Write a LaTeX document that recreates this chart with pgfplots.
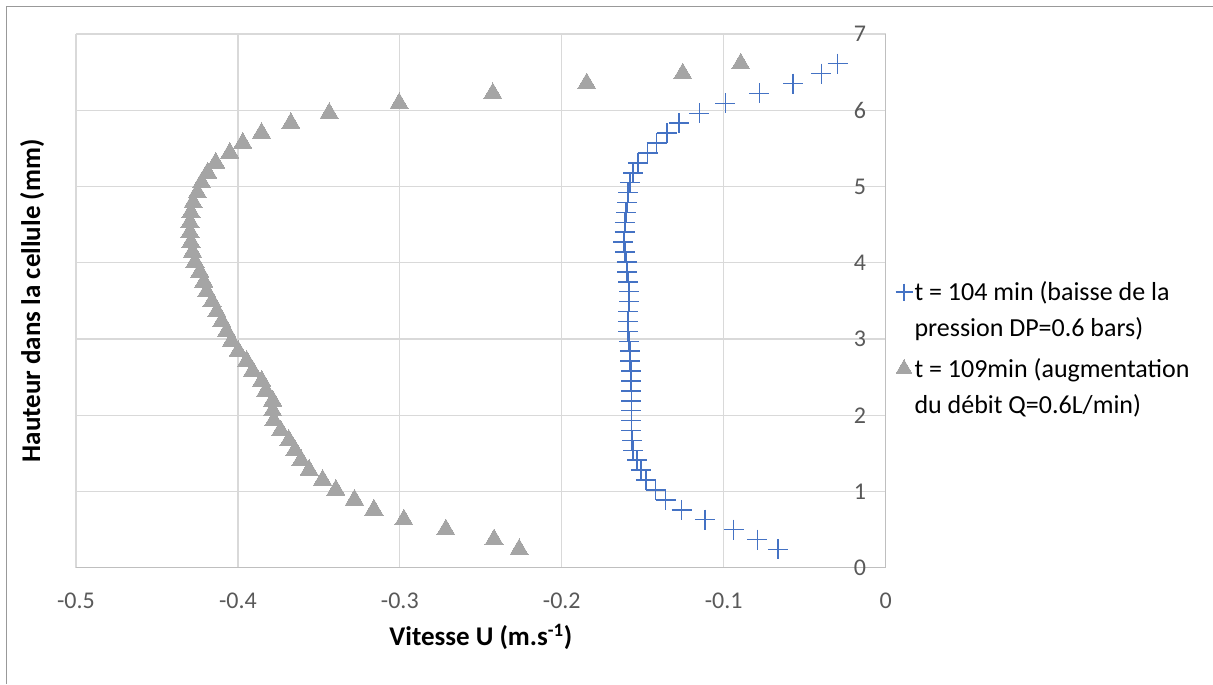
\documentclass[border=0pt]{standalone}
\usepackage{pgfplots}
\pgfplotsset{compat=1.18}
\usepackage{fontspec}
\setmainfont{Carlito}
\definecolor{gridgray}{HTML}{D9D9D9}
\definecolor{axgray}{HTML}{BFBFBF}
\definecolor{tickgray}{HTML}{595959}
\definecolor{pblue}{HTML}{4472C4}
\definecolor{tgray}{HTML}{A5A5A5}
\begin{document}
\begin{tikzpicture}[x=1pt,y=1pt]
\path (0,0) rectangle (1213,684);
\draw[color=black!40, line width=1pt] (6.5,0) -- (6.5,677.5) -- (1213,677.5);
\begin{axis}[
  at={(76pt,116pt)}, anchor=south west,
  width=810pt, height=534pt, scale only axis,
  xmin=-0.5, xmax=0, ymin=0, ymax=7,
  xtick={-0.5,-0.4,-0.3,-0.2,-0.1,0},
  xticklabels={-0.5,-0.4,-0.3,-0.2,-0.1,0},
  ytick={0,1,2,3,4,5,6,7},
  axis x line*=bottom, axis y line*=right,
  axis line style={-, draw=axgray, line width=1.3pt},
  grid=major, major grid style={draw=gridgray, line width=1.3pt},
  major tick length=0pt,
  /pgf/number format/assume math mode=true,
  tick label style={font=\fontsize{24}{28}\selectfont, text=tickgray},
  xticklabel style={yshift=-22pt},
  yticklabel style={anchor=east, xshift=-16pt},
  xlabel={\textbf{Vitesse U (m.s\textsuperscript{-1})}},
  ylabel={\textbf{Hauteur dans la cellule (mm)}},
  every axis x label/.style={at={(axis description cs:0.5,0)}, anchor=center, yshift=-69pt, font=\fontsize{27}{32}\selectfont},
  every axis y label/.style={at={(axis description cs:-0.054,0.5)}, rotate=90, anchor=center, font=\fontsize{27}{32}\selectfont},
  legend style={draw=none, fill=none, at={(1.012,0.411)}, anchor=west, inner sep=0pt,
    font=\fontsize{26}{36}\selectfont, nodes={align=left}, row sep=16pt},
  legend cell align=left,
]
\addplot[draw=pblue, line width=1.5pt, only marks, mark=+, mark size=10pt,
  legend image post style={mark size=8.5pt, yshift=18pt}] table[x=x, y=y] {
x y
-0.0665 0.24
-0.0792 0.37
-0.0938 0.50
-0.1117 0.63
-0.1260 0.76
-0.1358 0.89
-0.1420 1.02
-0.1480 1.15
-0.1510 1.28
-0.1535 1.41
-0.1560 1.54
-0.1566 1.67
-0.1570 1.80
-0.1570 1.93
-0.1570 2.06
-0.1570 2.19
-0.1570 2.32
-0.1572 2.45
-0.1574 2.58
-0.1578 2.71
-0.1580 2.84
-0.1585 2.97
-0.1590 3.10
-0.1592 3.23
-0.1588 3.36
-0.1582 3.49
-0.1584 3.62
-0.1588 3.75
-0.1597 3.88
-0.1600 4.01
-0.1610 4.14
-0.1620 4.27
-0.1612 4.40
-0.1610 4.53
-0.1602 4.66
-0.1595 4.79
-0.1590 4.92
-0.1580 5.05
-0.1560 5.18
-0.1530 5.31
-0.1470 5.44
-0.1415 5.57
-0.1350 5.70
-0.1276 5.83
-0.1150 5.96
-0.0990 6.09
-0.0780 6.22
-0.0572 6.35
-0.0397 6.48
-0.0296 6.61
};
\addlegendentry{t = 104 min (baisse de la\\pression DP=0.6 bars)}
\addplot[color=tgray, only marks, mark=triangle*, mark size=10.5pt, mark options={fill=tgray, draw=tgray, line width=0pt},
  legend image post style={mark size=9pt, yshift=18pt}] table[x=x, y=y] {
x y
-0.2263 0.24
-0.2418 0.37
-0.2716 0.50
-0.2975 0.63
-0.3160 0.76
-0.3280 0.89
-0.3395 1.02
-0.3477 1.15
-0.3560 1.28
-0.3610 1.41
-0.3648 1.54
-0.3685 1.67
-0.3736 1.80
-0.3778 1.93
-0.3785 2.06
-0.3785 2.19
-0.3827 2.32
-0.3853 2.45
-0.3909 2.58
-0.3946 2.71
-0.3998 2.84
-0.4040 2.97
-0.4070 3.10
-0.4100 3.23
-0.4130 3.36
-0.4160 3.49
-0.4193 3.62
-0.4210 3.75
-0.4235 3.88
-0.4265 4.01
-0.4280 4.14
-0.4290 4.27
-0.4296 4.40
-0.4296 4.53
-0.4290 4.66
-0.4276 4.79
-0.4250 4.92
-0.4224 5.05
-0.4187 5.18
-0.4137 5.31
-0.4050 5.44
-0.3970 5.57
-0.3854 5.70
-0.3673 5.83
-0.3436 5.96
-0.3004 6.09
-0.2426 6.22
-0.1846 6.35
-0.1253 6.48
-0.0895 6.61
};
\addlegendentry{t = 109min (augmentation\\du débit Q=0.6L/min)}
\end{axis}
\end{tikzpicture}
\end{document}
